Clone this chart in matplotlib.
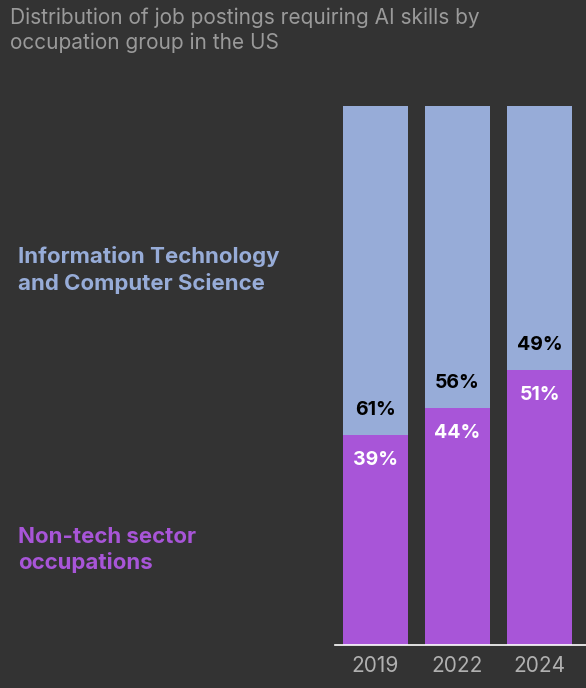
import matplotlib.pyplot as plt

years = ['2019', '2022', '2024']
non_tech = [39, 44, 51]
it_cs = [61, 56, 49]

bg = '#333333'
blue = '#97acd8'
purple = '#a855d8'

plt.rcParams['font.family'] = ['Inter', 'DejaVu Sans']

fig = plt.figure(figsize=(5.86, 6.88), dpi=100, facecolor=bg)
W, H = 586, 688
ax = fig.add_axes([335 / W, 1 - 645 / H, 251 / W, (645 - 106) / H])
ax.set_facecolor(bg)

x = range(len(years))
ax.bar(x, non_tech, width=0.79, color=purple)
ax.bar(x, it_cs, bottom=non_tech, width=0.79, color=blue)

for i in x:
    ax.text(i, non_tech[i] + 3, f'{it_cs[i]}%', ha='center', va='bottom',
            color='black', fontsize=14, fontweight='bold')
    ax.text(i, non_tech[i] - 3, f'{non_tech[i]}%', ha='center', va='top',
            color='white', fontsize=14, fontweight='bold')

ax.set_xlim(-0.494, 2.567)
ax.set_ylim(0, 100)
ax.set_yticks([])
ax.set_xticks(list(x))
ax.set_xticklabels(years, color='#b0b0b0', fontsize=15)
ax.tick_params(axis='x', length=0, pad=8)
for s in ['top', 'right', 'left']:
    ax.spines[s].set_visible(False)
ax.spines['bottom'].set_color('white')
ax.spines['bottom'].set_linewidth(1.2)

fig.text(10 / W, 1 - 8 / H, 'Distribution of job postings requiring AI skills by\noccupation group in the US',
         ha='left', va='top', color='#9a9a9a', fontsize=15, linespacing=1.25)
fig.text(18 / W, 1 - 270 / H, 'Information Technology\nand Computer Science',
         ha='left', va='center', color=blue, fontsize=16, fontweight='bold', linespacing=1.3)
fig.text(18 / W, 1 - 550 / H, 'Non-tech sector\noccupations',
         ha='left', va='center', color=purple, fontsize=16, fontweight='bold', linespacing=1.3)

fig.savefig('out.png', dpi=100, facecolor=bg)
